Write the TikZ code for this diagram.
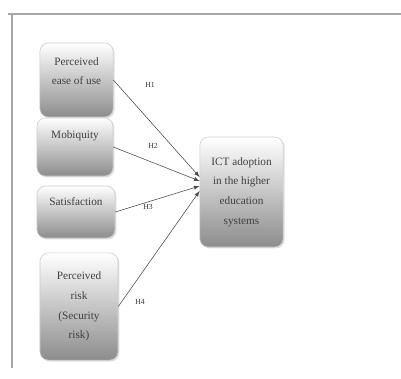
\documentclass[tikz,border=0pt]{standalone}
\usepackage{fontspec}
\setmainfont{Liberation Serif}
\usetikzlibrary{shadows,calc}

\tikzset{
  factor/.style={draw=black!20, rounded corners=6pt, top color=white, bottom color=black!45,
    drop shadow={opacity=0.25, shadow xshift=1pt, shadow yshift=-1pt},
    align=center, text=black!75, font=\fontsize{8}{14}\selectfont, inner sep=1pt},
  hyp/.style={font=\fontsize{5.5}{6}\selectfont, text=black!80},
}

\begin{document}
\begin{tikzpicture}[x=0.025cm, y=-0.025cm]
\useasboundingbox (0,0) rectangle (401,379);

\draw [black!35, line width=1.2pt] (8,14) -- (401,14);
\draw [black!35, line width=1pt] (12,14) -- (12,368);

\node [factor, minimum width=1.83cm, minimum height=1.85cm, text depth=0.45cm] (peou) at (76.5,80) {Perceived\\ease of use};
\node [factor, minimum width=1.9cm, minimum height=1.45cm, text depth=0.6cm] (mob) at (75,147) {Mobiquity};
\node [factor, minimum width=1.95cm, minimum height=1.3cm, text depth=0.5cm] (sat) at (76,212) {Satisfaction};
\node [factor, minimum width=1.95cm, minimum height=2.68cm] (risk) at (79,306.5) {Perceived\\risk\\(Security\\risk)};

\node [factor, minimum width=2.08cm, minimum height=2.75cm] (ict) at (241.5,192) {ICT adoption\\in the higher\\education\\systems};

\draw [>=latex, ->, black!70] (peou.east) -- ($(ict.west)+(0,-15)$);
\draw [>=latex, ->, black!70] (mob.east) -- ($(ict.west)+(0,-11)$);
\draw [>=latex, ->, black!70] (sat.east) -- ($(ict.west)+(0,-6)$);
\draw [>=latex, ->, black!70] (risk.east) -- ($(ict.west)+(0,-1)$);

\node [hyp] (h1) at (150,85) {H1};
\node [hyp] (h2) at (153,146) {H2};
\node [hyp] (h3) at (148,207) {H3};
\node [hyp] (h4) at (140,302) {H4};

\end{tikzpicture}
\end{document}
